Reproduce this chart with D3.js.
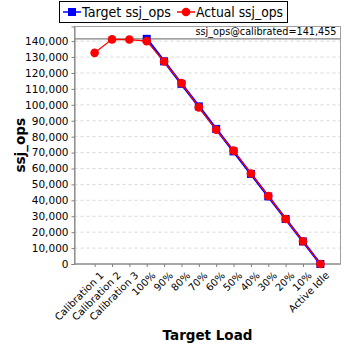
<!DOCTYPE html>
<html>
<head>
<meta charset="utf-8">
<script src="https://cdn.jsdelivr.net/npm/d3@7"></script>
<style>
  html, body { margin: 0; padding: 0; background: #fff; }
  svg { display: block; font-family: "DejaVu Sans", sans-serif; }
</style>
</head>
<body>
<svg id="chart" width="348" height="348"></svg>
<script>
// Load levels along the x axis
const categories = ["Calibration 1", "Calibration 2", "Calibration 3", "100%", "90%", "80%", "70%", "60%", "50%", "40%", "30%", "20%", "10%", "Active Idle"];
// Target throughput per load level (none for calibration runs)
const targetOps = [null, null, null, 141455, 127310, 113164, 99019, 84873, 70728, 56582, 42437, 28291, 14146, 0];
// Measured throughput per load level
const actualOps = [132650, 141100, 141000, 140000, 127200, 113600, 98400, 84300, 71200, 56900, 42750, 28300, 14270, 0];
const calibrated = 141455;
const yTicks = d3.range(0, 140001, 10000);
const yMax = 149200;

const svg = d3.select("#chart");
const plot = { left: 74.5, right: 340.5, top: 26.5, bottom: 264 };

const x = d3.scalePoint().domain(categories).range([plot.left, plot.right]).padding(1.16);
const y = d3.scaleLinear().domain([0, yMax]).range([plot.bottom, plot.top]);

// Horizontal grid lines
svg.append("g").selectAll("line").data(yTicks.filter(d => d > 0)).join("line")
  .attr("x1", plot.left).attr("x2", plot.right)
  .attr("y1", d => y(d)).attr("y2", d => y(d))
  .attr("stroke", "#d8d8d8").attr("stroke-width", 1).attr("stroke-dasharray", "3,3");

// Calibrated throughput reference line
svg.append("line")
  .attr("x1", plot.left).attr("x2", plot.right)
  .attr("y1", y(calibrated)).attr("y2", y(calibrated))
  .attr("stroke", "#808080").attr("stroke-width", 1.2);

svg.append("text")
  .attr("x", plot.right - 4).attr("y", y(calibrated) - 4)
  .attr("text-anchor", "end").attr("font-size", 10)
  .attr("textLength", 141).attr("lengthAdjust", "spacingAndGlyphs")
  .attr("fill", "#000")
  .text("ssj_ops@calibrated=" + d3.format(",")(calibrated));

// Plot frame
svg.append("rect")
  .attr("x", plot.left).attr("y", plot.top)
  .attr("width", plot.right - plot.left).attr("height", plot.bottom - plot.top)
  .attr("fill", "none").attr("stroke", "#a0a0a0").attr("stroke-width", 1);

// Y axis
const yAxis = svg.append("g")
  .attr("transform", `translate(${plot.left},0)`)
  .call(d3.axisLeft(y).tickValues(yTicks).tickFormat(d3.format(",")).tickSize(3).tickPadding(3));
yAxis.select(".domain").attr("stroke", "#808080");
yAxis.selectAll(".tick line").attr("stroke", "#808080");
yAxis.selectAll("text").attr("font-size", 10.5).attr("fill", "#000").attr("font-family", "DejaVu Sans, sans-serif");

// X axis
const xAxis = svg.append("g")
  .attr("transform", `translate(0,${plot.bottom})`)
  .call(d3.axisBottom(x).tickSize(3).tickPadding(2));
xAxis.select(".domain").attr("stroke", "#808080").attr("d", `M${plot.left},0H${plot.right}`);
xAxis.selectAll(".tick line").attr("stroke", "#808080");
xAxis.selectAll("text")
  .attr("font-size", 10).attr("fill", "#000").attr("font-family", "DejaVu Sans, sans-serif")
  .attr("text-anchor", "end")
  .attr("dy", "0.35em")
  .attr("transform", "translate(3,6) rotate(-45)");

// Axis titles
svg.append("text")
  .attr("x", (plot.left + plot.right) / 2).attr("y", 340)
  .attr("text-anchor", "middle").attr("font-size", 13.5).attr("font-weight", "bold")
  .text("Target Load");
svg.append("text")
  .attr("transform", `translate(25,${(plot.top + plot.bottom) / 2}) rotate(-90)`)
  .attr("text-anchor", "middle").attr("font-size", 13.5).attr("font-weight", "bold")
  .text("ssj_ops");

// Series lines
const line = d3.line()
  .defined(d => d.v !== null)
  .x(d => x(d.c)).y(d => y(d.v));
const targetData = categories.map((c, i) => ({ c, v: targetOps[i] }));
const actualData = categories.map((c, i) => ({ c, v: actualOps[i] }));

svg.append("path").datum(targetData).attr("d", line)
  .attr("fill", "none").attr("stroke", "#0000ff").attr("stroke-width", 2.5);
svg.selectAll("rect.target").data(targetData.filter(d => d.v !== null)).join("rect")
  .attr("class", "target")
  .attr("x", d => x(d.c) - 4).attr("y", d => y(d.v) - 4)
  .attr("width", 8).attr("height", 8).attr("fill", "#0000ff");

svg.append("path").datum(actualData).attr("d", line)
  .attr("fill", "none").attr("stroke", "#ff0000").attr("stroke-width", 1.2);
svg.selectAll("circle.actual").data(actualData).join("circle")
  .attr("class", "actual")
  .attr("cx", d => x(d.c)).attr("cy", d => y(d.v)).attr("r", 4.3)
  .attr("fill", "#ff0000");

// Legend
const legend = svg.append("g");
legend.append("rect").attr("x", 59.5).attr("y", 1.5).attr("width", 228).attr("height", 21)
  .attr("fill", "#fff").attr("stroke", "#000").attr("stroke-width", 1);
legend.append("line").attr("x1", 63).attr("x2", 81).attr("y1", 12).attr("y2", 12)
  .attr("stroke", "#0000ff").attr("stroke-width", 1.5);
legend.append("rect").attr("x", 68).attr("y", 8).attr("width", 8).attr("height", 8).attr("fill", "#0000ff");
legend.append("text").attr("x", 82).attr("y", 17).attr("font-size", 14)
  .attr("textLength", 89).attr("lengthAdjust", "spacingAndGlyphs").text("Target ssj_ops");
legend.append("line").attr("x1", 177).attr("x2", 195).attr("y1", 12).attr("y2", 12)
  .attr("stroke", "#ff0000").attr("stroke-width", 1.5);
legend.append("circle").attr("cx", 186).attr("cy", 12).attr("r", 4.3).attr("fill", "#ff0000");
legend.append("text").attr("x", 196).attr("y", 17).attr("font-size", 14)
  .attr("textLength", 87).attr("lengthAdjust", "spacingAndGlyphs").text("Actual ssj_ops");
</script>
</body>
</html>
